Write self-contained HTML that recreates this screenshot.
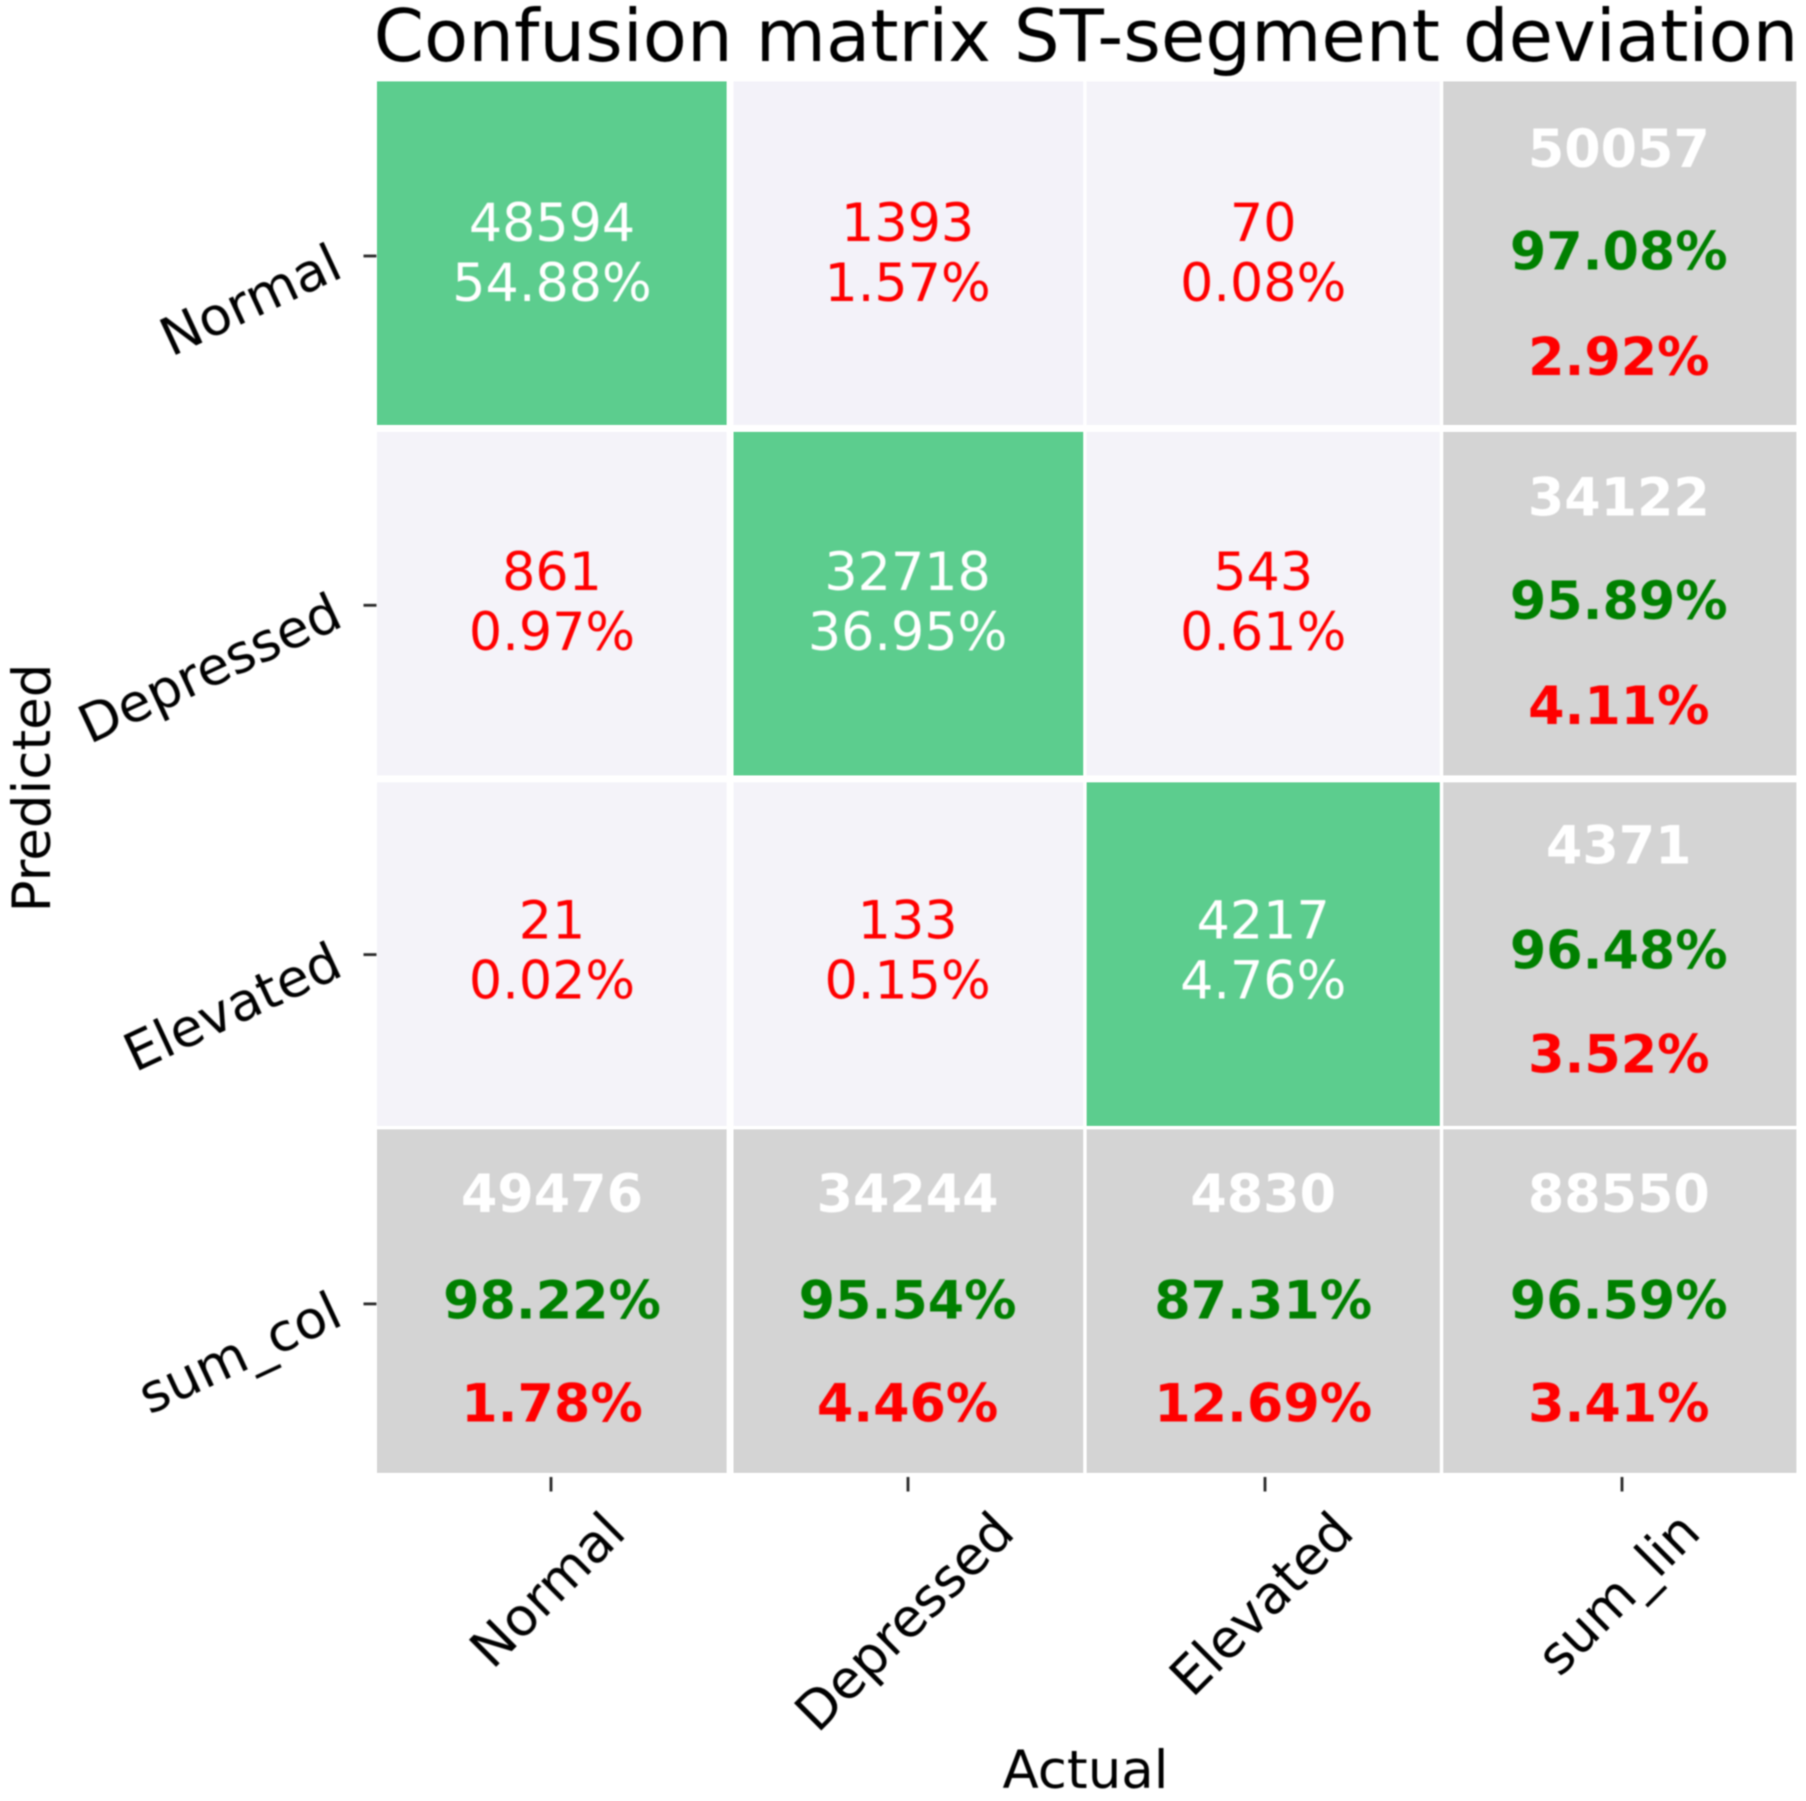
<!DOCTYPE html>
<html lang="en">
<head>
<meta charset="utf-8">
<title>Confusion matrix ST-segment deviation</title>
<style>
html,body{margin:0;padding:0;background:#fff;width:1806px;height:1801px;overflow:hidden}
svg{display:block}
text{font-family:"DejaVu Sans","Liberation Sans",sans-serif}
#labels,#ticks{filter:blur(.9px)}
#cells{filter:blur(.4px)}
</style>
</head>
<body>
<svg id="chart" xmlns="http://www.w3.org/2000/svg" width="1806" height="1801" viewBox="0 0 1806 1801">
<g id="cells"></g>
<g id="ticks"></g>
<g id="labels"></g>
</svg>
<script>
const xCategories = ['Normal', 'Depressed', 'Elevated', 'sum_lin'];
const yCategories = ['Normal', 'Depressed', 'Elevated', 'sum_col'];

const countsNormal = [48594, 1393, 70];
const countsDepressed = [861, 32718, 543];
const countsElevated = [21, 133, 4217];
const percentNormal = [54.88, 1.57, 0.08];
const percentDepressed = [0.97, 36.95, 0.61];
const percentElevated = [0.02, 0.15, 4.76];

const sumLinCounts = [50057, 34122, 4371];
const sumLinCorrect = [97.08, 95.89, 96.48];
const sumLinError = [2.92, 4.11, 3.52];
const sumColCounts = [49476, 34244, 4830, 88550];
const sumColCorrect = [98.22, 95.54, 87.31, 96.59];
const sumColError = [1.78, 4.46, 12.69, 3.41];

const NS = 'http://www.w3.org/2000/svg';
const cellsLayer = document.getElementById('cells');
const ticksLayer = document.getElementById('ticks');
const labelsLayer = document.getElementById('labels');
const CELL_FS = 52.3;
const AXIS_FS = 53;
const INK = '#000000';

/* Axis functions: the reference is an upscaled raster, so band edges snap to its source pixels. */
function xEdge(i) { return 109 + 102.7 * i; }
function yEdge(i) { return 23 + 100.75 * i; }
function cellLeft(i) { return Math.round(xEdge(i)) * 3.462 - 0.4; }
function cellRight(i) { return Math.round(xEdge(i + 1) - 1.3) * 3.462 - 0.4; }
function cellTop(i) { return Math.round(yEdge(i)) * 3.47 + 1.6; }
function cellBottom(i) { return Math.round(yEdge(i + 1) - 1.6) * 3.47 + 1.6; }
function xTick(i) { return 551 + 357 * i; }
function yTick(i) { return 256 + 349.3 * i; }
function xText(i) { return 552 + 355.6 * i; }
function yCount(i) { return 241 + 348.8 * i; }
function yPercent(i) { return 301 + 348.8 * i; }
function yTotalCount(i) { return 167 + 348.3 * i; }
function yTotalCorrect(i) { return 269.5 + 349.6 * i; }
function yTotalError(i) { return 375 + 348.8 * i; }

function offDiagonalColor(value) {
  const t = Math.min(1, value / sumColCounts[3]);
  const r = Math.round(244 - 43 * t);
  const g = Math.round(243 - 45 * t);
  const b = Math.round(249 - 25 * t);
  return 'rgb(' + r + ',' + g + ',' + b + ')';
}

function addText(str, x, y, size, fill, weight, anchor, transform) {
  const el = document.createElementNS(NS, 'text');
  el.textContent = str;
  el.setAttribute('x', x);
  el.setAttribute('y', y);
  el.setAttribute('font-size', size);
  el.setAttribute('fill', fill);
  el.setAttribute('font-weight', weight);
  el.setAttribute('text-anchor', anchor);
  if (transform) el.setAttribute('transform', transform);
  labelsLayer.appendChild(el);
  return el;
}

function addCell(col, row, fill) {
  const r = document.createElementNS(NS, 'rect');
  r.setAttribute('x', cellLeft(col));
  r.setAttribute('y', cellTop(row));
  r.setAttribute('width', cellRight(col) - cellLeft(col));
  r.setAttribute('height', cellBottom(row) - cellTop(row));
  r.setAttribute('fill', fill);
  cellsLayer.appendChild(r);
  return r;
}

function addTick(x1, y1, x2, y2) {
  const l = document.createElementNS(NS, 'line');
  l.setAttribute('x1', x1);
  l.setAttribute('y1', y1);
  l.setAttribute('x2', x2);
  l.setAttribute('y2', y2);
  l.setAttribute('stroke', '#262626');
  l.setAttribute('stroke-width', 2.8);
  ticksLayer.appendChild(l);
  return l;
}

const counts = [countsNormal, countsDepressed, countsElevated];
const percents = [percentNormal, percentDepressed, percentElevated];

/* Inner 3x3 matrix */
counts.forEach(function (rowValues, row) {
  rowValues.forEach(function (value, col) {
    const diagonal = row === col;
    const rect = addCell(col, row, diagonal ? '#5ccd8e' : offDiagonalColor(value));
    
    
    const color = diagonal ? '#ffffff' : '#ff0000';
    const countLabel = addText(String(value), xText(col), yCount(row), CELL_FS, color, 'normal', 'middle');
    
    
    const percentLabel = addText(percents[row][col].toFixed(2) + '%', xText(col), yPercent(row), CELL_FS, color, 'normal', 'middle');
    
    
  });
});

function addTotalCell(col, row, count, correct, error, name) {
  const rect = addCell(col, row, '#d4d4d4');
  
  
  const total = addText(String(count), xText(col), yTotalCount(row), CELL_FS, '#ffffff', 'bold', 'middle');
  
  
  const ok = addText(correct.toFixed(2) + '%', xText(col), yTotalCorrect(row), CELL_FS, '#008000', 'bold', 'middle');
  
  
  const bad = addText(error.toFixed(2) + '%', xText(col), yTotalError(row), CELL_FS, '#ff0000', 'bold', 'middle');
  
  
}

sumLinCounts.forEach(function (value, row) {
  addTotalCell(3, row, value, sumLinCorrect[row], sumLinError[row], 'sum-lin-cell');
});
sumColCounts.forEach(function (value, col) {
  addTotalCell(col, 3, value, sumColCorrect[col], sumColError[col], 'sum-col-cell');
});

/* X axis ticks and labels */
xCategories.forEach(function (name, i) {
  const tick = addTick(xTick(i), 1477, xTick(i), 1491.5);
  
  
  const label = addText(name, 0, 0, AXIS_FS, INK, 'normal', 'middle');
  
  
  const len = label.getComputedTextLength();
  const cy = 1507 + (len + AXIS_FS) * 0.7071 / 2;
  const d = 13 * 0.7071;
  label.setAttribute('transform', 'translate(' + (xTick(i) + d) + ',' + (cy + d) + ') rotate(-45)');
});

/* Y axis ticks and labels */
yCategories.forEach(function (name, i) {
  const tick = addTick(363.5, yTick(i), 376.5, yTick(i));
  
  
  const label = addText(name, 0, 0, AXIS_FS, INK, 'normal', 'end', 'translate(345,' + (yTick(i) + 20) + ') rotate(-25)');
  
  
});

const title = addText('Confusion matrix ST-segment deviation', 1086, 61, 72.2, '#000000', 'normal', 'middle');



const xTitle = addText('Actual', 1085.5, 1788, AXIS_FS, INK, 'normal', 'middle');



const yTitle = addText('Predicted', 0, 0, AXIS_FS, INK, 'normal', 'middle', 'translate(50,788) rotate(-90)');


</script>
</body>
</html>
